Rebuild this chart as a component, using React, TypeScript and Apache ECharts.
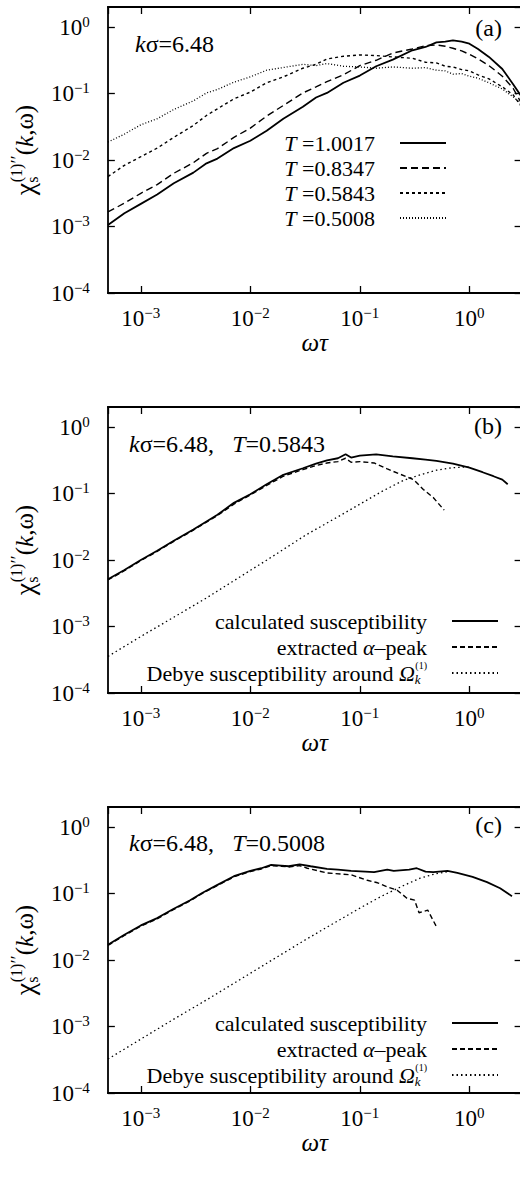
import { useEffect, useRef } from 'react';
import * as echarts from 'echarts';

// ---------- data ----------
const xTickExponents = [-3, -2, -1, 0];
const yTickExponents = [-4, -3, -2, -1, 0];

// panel (a): k sigma = 6.48, four temperatures
const omegaTauA = [5.01e-4, 7.08e-4, 1.0e-3, 1.41e-3, 2.0e-3, 3.02e-3, 3.98e-3, 5.01e-3, 7.08e-3, 1.0e-2, 1.41e-2, 2.0e-2, 3.02e-2, 3.98e-2, 5.01e-2, 7.08e-2, 0.1, 0.141, 0.2, 0.302, 0.398, 0.501, 0.603, 0.708, 0.851, 1.0, 1.2, 1.51, 2.0, 2.51, 3.0];
const chiA_T10017 = [1.05e-3, 1.58e-3, 2.19e-3, 3.02e-3, 4.47e-3, 6.46e-3, 8.91e-3, 1.05e-2, 1.51e-2, 1.95e-2, 2.75e-2, 4.17e-2, 6.31e-2, 8.71e-2, 0.102, 0.145, 0.186, 0.257, 0.324, 0.447, 0.501, 0.589, 0.603, 0.631, 0.603, 0.562, 0.468, 0.355, 0.234, 0.138, 0.089];
const chiA_T08347 = [1.66e-3, 2.24e-3, 3.16e-3, 4.27e-3, 6.31e-3, 9.12e-3, 1.26e-2, 1.48e-2, 2.19e-2, 3.02e-2, 4.57e-2, 6.61e-2, 0.102, 0.126, 0.151, 0.191, 0.263, 0.316, 0.407, 0.468, 0.525, 0.537, 0.513, 0.479, 0.437, 0.389, 0.331, 0.263, 0.182, 0.12, 0.0708];
const chiA_T05843 = [5.62e-3, 8.32e-3, 1.12e-2, 1.51e-2, 2.19e-2, 3.31e-2, 4.68e-2, 5.89e-2, 8.32e-2, 0.105, 0.145, 0.178, 0.24, 0.275, 0.331, 0.363, 0.38, 0.372, 0.355, 0.339, 0.295, 0.288, 0.257, 0.251, 0.229, 0.219, 0.191, 0.166, 0.126, 0.0955, 0.0631];
const chiA_T05008 = [1.86e-2, 2.45e-2, 3.39e-2, 4.17e-2, 5.75e-2, 7.76e-2, 0.102, 0.115, 0.148, 0.178, 0.224, 0.246, 0.275, 0.263, 0.282, 0.257, 0.251, 0.24, 0.251, 0.24, 0.245, 0.224, 0.219, 0.195, 0.2, 0.182, 0.17, 0.145, 0.117, 0.0891, 0.0692];

// panel (b): T = 0.5843
const omegaTauB = [5.01e-4, 7.08e-4, 1.0e-3, 1.41e-3, 2.0e-3, 3.02e-3, 3.98e-3, 5.01e-3, 7.08e-3, 1.0e-2, 1.41e-2, 2.0e-2, 3.02e-2, 3.98e-2, 5.01e-2, 6.31e-2, 7.41e-2, 8.32e-2, 0.1, 0.141, 0.2, 0.302, 0.398, 0.501, 0.708, 1.0, 1.32, 1.66, 2.0, 2.24];
const chiB_calc = [5.13e-3, 7.08e-3, 1.0e-2, 1.38e-2, 1.95e-2, 2.88e-2, 3.8e-2, 4.79e-2, 7.24e-2, 9.77e-2, 0.138, 0.191, 0.24, 0.282, 0.316, 0.339, 0.389, 0.347, 0.372, 0.389, 0.363, 0.339, 0.324, 0.309, 0.282, 0.245, 0.209, 0.182, 0.162, 0.138];
const omegaTauBAlpha = [5.01e-4, 7.08e-4, 1.0e-3, 1.41e-3, 2.0e-3, 3.02e-3, 3.98e-3, 5.01e-3, 7.08e-3, 1.0e-2, 1.41e-2, 2.0e-2, 3.02e-2, 3.98e-2, 5.01e-2, 6.31e-2, 7.41e-2, 8.32e-2, 0.1, 0.135, 0.178, 0.234, 0.309, 0.38, 0.468, 0.589];
const chiB_alpha = [5.01e-3, 6.92e-3, 9.77e-3, 1.35e-2, 1.91e-2, 2.82e-2, 3.72e-2, 4.68e-2, 6.92e-2, 9.55e-2, 0.132, 0.182, 0.229, 0.263, 0.288, 0.302, 0.339, 0.295, 0.302, 0.288, 0.234, 0.195, 0.162, 0.115, 0.0871, 0.0562];
const omegaTauBDebye = [5.01e-4, 1e-3, 2e-3, 3.98e-3, 7.94e-3, 1.58e-2, 3.16e-2, 6.31e-2, 0.1, 0.158, 0.251, 0.355, 0.501, 0.708, 1.0];
const chiB_debye = [3.55e-4, 7.08e-4, 1.38e-3, 2.69e-3, 5.5e-3, 1.12e-2, 2.34e-2, 4.47e-2, 6.92e-2, 0.107, 0.158, 0.191, 0.224, 0.245, 0.251];

// panel (c): T = 0.5008
const omegaTauC = [5.01e-4, 7.08e-4, 1e-3, 1.41e-3, 2e-3, 2.82e-3, 3.63e-3, 5.01e-3, 7.08e-3, 1e-2, 1.26e-2, 1.55e-2, 1.91e-2, 2.24e-2, 2.82e-2, 3.55e-2, 5.01e-2, 6.31e-2, 8.32e-2, 0.112, 0.135, 0.178, 0.204, 0.282, 0.331, 0.398, 0.468, 0.631, 0.776, 1.07, 1.45, 1.91, 2.45];
const chiC_calc = [1.7e-2, 2.4e-2, 3.31e-2, 4.27e-2, 5.89e-2, 7.94e-2, 0.102, 0.135, 0.182, 0.219, 0.24, 0.269, 0.263, 0.257, 0.275, 0.257, 0.234, 0.229, 0.219, 0.214, 0.209, 0.229, 0.219, 0.229, 0.24, 0.214, 0.209, 0.219, 0.204, 0.178, 0.148, 0.12, 0.0912];
const omegaTauCAlpha = [5.01e-4, 7.08e-4, 1e-3, 1.41e-3, 2e-3, 2.82e-3, 3.63e-3, 5.01e-3, 7.08e-3, 1e-2, 1.26e-2, 1.55e-2, 1.91e-2, 2.24e-2, 2.82e-2, 3.31e-2, 5.01e-2, 8.32e-2, 0.117, 0.145, 0.178, 0.219, 0.269, 0.316, 0.347, 0.417, 0.501];
const chiC_alpha = [1.66e-2, 2.34e-2, 3.24e-2, 4.17e-2, 5.75e-2, 7.76e-2, 0.1, 0.132, 0.178, 0.214, 0.234, 0.263, 0.257, 0.251, 0.263, 0.24, 0.204, 0.191, 0.158, 0.145, 0.126, 0.112, 0.0851, 0.0794, 0.0513, 0.0562, 0.0316];
const omegaTauCDebye = [5.01e-4, 1e-3, 2e-3, 3.98e-3, 7.94e-3, 1.58e-2, 3.16e-2, 6.31e-2, 0.1, 0.158, 0.251, 0.355, 0.501, 0.661];
const chiC_debye = [3.24e-4, 6.46e-4, 1.29e-3, 2.51e-3, 5.01e-3, 1e-2, 2.0e-2, 3.89e-2, 6.03e-2, 9.12e-2, 0.132, 0.17, 0.2, 0.214];

const legendA = ['T=1.0017', 'T=0.8347', 'T=0.5843', 'T=0.5008'];
const legendBC = ['calculated susceptibility', 'extracted α–peak', 'Debye susceptibility around Ωk(1)'];

// ---------- layout / style ----------
const FONT = 'Liberation Serif';
const CW = 540;
const CH = 1184;
const GRID_LEFT = 104.8;
const GRID_WIDTH = 416.8;
const GRID_HEIGHT = 286;
const GRID_TOPS = [7, 407, 807];
const X_MIN = 5e-4;
const X_MAX = 3;
const Y_MIN = 1e-4;
const Y_MAX = 2;

const tickRich = {
  b: { fontFamily: FONT, fontSize: 23, lineHeight: 26, color: '#000' },
  s: { fontFamily: FONT, fontSize: 15, lineHeight: 15, verticalAlign: 'top', color: '#000' },
};

function powerLabel(exps: number[]) {
  return (v: number) => {
    const l = Math.log10(v);
    const e = Math.round(l);
    if (Math.abs(l - e) > 0.01 || exps.indexOf(e) < 0) return '';
    return `{b|10}{s|${e < 0 ? '\u2212' : ''}${Math.abs(e)}}`;
  };
}

const lineAx = { show: true, onZero: false, lineStyle: { color: '#000', width: 1.8 } };
const tickAx = { show: true, inside: true, length: 7, lineStyle: { color: '#000', width: 1.3 } };

function xAxesFor(gi: number) {
  const common = {
    type: 'log', logBase: 10, min: X_MIN, max: X_MAX, gridIndex: gi,
    splitLine: { show: false }, minorTick: { show: false }, minorSplitLine: { show: false },
    axisLine: lineAx, axisTick: tickAx,
  };
  return [
    {
      ...common, position: 'bottom',
      name: 'ωτ', nameLocation: 'middle', nameGap: 37,
      nameTextStyle: { fontFamily: FONT, fontSize: 25, fontStyle: 'italic', color: '#000' },
      axisLabel: {
        show: true, margin: 12, formatter: powerLabel(xTickExponents), rich: tickRich,
        fontFamily: FONT, fontSize: 23, color: '#000', showMinLabel: false, showMaxLabel: false,
      },
    },
    { ...common, position: 'top', axisLabel: { show: false } },
  ];
}

const yNameRich = {
  c: { fontFamily: FONT, fontSize: 28, lineHeight: 32, align: 'left', color: '#000' },
  sub: { fontFamily: FONT, fontSize: 16, lineHeight: 16, verticalAlign: 'bottom', width: 0.5, align: 'left', color: '#000' },
  sup: { fontFamily: FONT, fontSize: 16, lineHeight: 16, verticalAlign: 'top', align: 'left', color: '#000' },
  pr: { fontFamily: FONT, fontSize: 19, lineHeight: 19, verticalAlign: 'top', align: 'left', color: '#000' },
  p: { fontFamily: FONT, fontSize: 25, lineHeight: 32, align: 'left', color: '#000' },
  k: { fontFamily: FONT, fontSize: 25, lineHeight: 32, fontStyle: 'italic', align: 'left', color: '#000' },
};

function yAxesFor(gi: number) {
  const common = {
    type: 'log', logBase: 10, min: Y_MIN, max: Y_MAX, gridIndex: gi,
    splitLine: { show: false }, minorTick: { show: false }, minorSplitLine: { show: false },
    axisLine: lineAx, axisTick: tickAx,
  };
  return [
    {
      ...common, position: 'left',
      name: '{c|χ}{sub|s}{sup|(1)}{pr|′′}{p|(}{k|k}{p|,ω)}',
      nameLocation: 'middle', nameRotate: 90, nameGap: 61,
      nameTextStyle: { fontFamily: FONT, fontSize: 25, color: '#000', rich: yNameRich },
      axisLabel: {
        show: true, margin: 18, formatter: powerLabel(yTickExponents), rich: tickRich,
        fontFamily: FONT, fontSize: 23, color: '#000', showMaxLabel: false,
      },
    },
    { ...common, position: 'right', axisLabel: { show: false } },
  ];
}

function lineSeries(name: string, gi: number, xs: number[], ys: number[], width: number, type: any, z = 2) {
  return {
    type: 'line', name, xAxisIndex: gi * 2, yAxisIndex: gi * 2,
    data: xs.map((x, i) => [x, ys[i]]),
    symbol: 'none', showSymbol: false, silent: true, clip: true, z,
    itemStyle: { color: '#000' },
    lineStyle: { color: '#000', width, type },
  };
}

const legRich = {
  n: { fontFamily: FONT, fontSize: 22, color: '#000', align: 'left' },
  it: { fontFamily: FONT, fontSize: 22, fontStyle: 'italic', color: '#000', align: 'left' },
  ksub: { fontFamily: FONT, fontSize: 13, lineHeight: 13, fontStyle: 'italic', verticalAlign: 'bottom', width: 0.5, color: '#000', align: 'left' },
  ksup: { fontFamily: FONT, fontSize: 10, lineHeight: 10, verticalAlign: 'top', color: '#000', align: 'left' },
  g: { fontFamily: FONT, fontSize: 22, width: 20, color: '#000', align: 'left' },
};

function legendAFormatter(name: string) {
  return `{it|T}{n| =${name.slice(2)}}{g| }`;
}
function legendBCFormatter(name: string) {
  if (name.indexOf('calculated') === 0) return '{n|calculated susceptibility}{g| }';
  if (name.indexOf('extracted') === 0) return '{n|extracted }{it|α}{n|–peak}{g| }';
  return '{n|Debye susceptibility around }{it|Ω}{ksub|k}{ksup|(1)}{g| }';
}

function legendFor(data: string[], right: number, top: number, lh: number, fmt: (n: string) => string) {
  return {
    data, orient: 'vertical', align: 'right', right, top,
    itemWidth: 46, itemHeight: 14, itemGap: 0, padding: 0,
    selectedMode: false, formatter: fmt,
    itemStyle: { opacity: 0 },
    textStyle: { fontFamily: FONT, fontSize: 22, lineHeight: lh, color: '#000', rich: legRich },
  };
}

const annRich = {
  i: { fontFamily: FONT, fontSize: 24, fontStyle: 'italic', fill: '#000' },
  n: { fontFamily: FONT, fontSize: 24, fill: '#000' },
};

function annText(x: number, y: number, text: string, align: string, rich: any) {
  return {
    type: 'text', x, y,
    style: { text, rich, fontFamily: FONT, fontSize: 24, fill: '#000', align, verticalAlign: 'middle' },
  };
}

function buildOption() {
  const grids = GRID_TOPS.map((t) => ({ left: GRID_LEFT, top: t, width: GRID_WIDTH, height: GRID_HEIGHT, show: false, containLabel: false }));
  const xAxis = [0, 1, 2].flatMap((g) => xAxesFor(g));
  const yAxis = [0, 1, 2].flatMap((g) => yAxesFor(g));

  const series = [
    lineSeries(legendA[0], 0, omegaTauA, chiA_T10017, 1.8, 'solid', 5),
    lineSeries(legendA[1], 0, omegaTauA, chiA_T08347, 1.4, [7, 4], 4),
    lineSeries(legendA[2], 0, omegaTauA, chiA_T05843, 1.4, [3, 3], 3),
    lineSeries(legendA[3], 0, omegaTauA, chiA_T05008, 1.3, [1, 2], 2),

    lineSeries(legendBC[0], 1, omegaTauB, chiB_calc, 1.8, 'solid', 5),
    lineSeries(legendBC[1], 1, omegaTauBAlpha, chiB_alpha, 1.4, [5, 3], 4),
    lineSeries(legendBC[2], 1, omegaTauBDebye, chiB_debye, 1.3, [1.5, 3], 3),

    lineSeries(legendBC[0], 2, omegaTauC, chiC_calc, 1.8, 'solid', 5),
    lineSeries(legendBC[1], 2, omegaTauCAlpha, chiC_alpha, 1.4, [5, 3], 4),
    lineSeries(legendBC[2], 2, omegaTauCDebye, chiC_debye, 1.3, [1.5, 3], 3),
  ];

  const legend = [
    legendFor(legendA, CW - 447, 130.5, 25, legendAFormatter),
    legendFor(legendBC, CW - 499, 608, 26, legendBCFormatter),
    legendFor(legendBC, CW - 499, 1010, 26, legendBCFormatter),
  ];

  const graphic = [
    annText(135, 44, '{i|k}{n|σ=6.48}', 'left', annRich),
    annText(129, 444, '{i|k}{n|σ=6.48,   }{i|T}{n|=0.5843}', 'left', annRich),
    annText(129, 843, '{i|k}{n|σ=6.48,   }{i|T}{n|=0.5008}', 'left', annRich),
    annText(502, 28, '(a)', 'right', undefined),
    annText(502, 426, '(b)', 'right', undefined),
    annText(502, 825, '(c)', 'right', undefined),
  ];

  return {
    animation: false,
    backgroundColor: '#fff',
    textStyle: { fontFamily: FONT, color: '#000' },
    grid: grids,
    xAxis,
    yAxis,
    legend,
    series,
    graphic,
  };
}

export default function App() {
  const ref = useRef<HTMLDivElement>(null);
  useEffect(() => {
    if (!ref.current) return;
    const chart = echarts.init(ref.current, undefined, { renderer: 'svg' });
    chart.setOption(buildOption() as any);
    return () => chart.dispose();
  }, []);
  return (
    <div style={{ position: 'fixed', left: 0, top: 0, width: 520, height: CH, overflow: 'hidden', background: '#fff' }}>
      <div ref={ref} style={{ width: CW, height: CH }} />
    </div>
  );
}
